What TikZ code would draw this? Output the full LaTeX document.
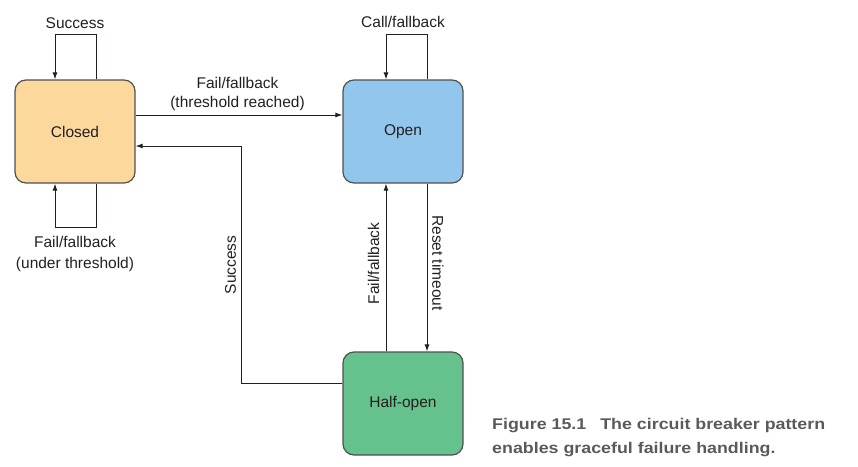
\documentclass[tikz,border=0pt]{standalone}
\usepackage{fontspec}
\setmainfont{Liberation Sans}
\newfontfamily\capfont[FakeStretch=1.15]{Liberation Sans}
\usetikzlibrary{arrows.meta,calc}
\definecolor{closedfill}{HTML}{FCD89C}
\definecolor{openfill}{HTML}{93C6EC}
\definecolor{halffill}{HTML}{66C28C}
\definecolor{boxline}{HTML}{505050}
\definecolor{txt}{HTML}{231F20}
\definecolor{capgray}{HTML}{5A5A5C}
\tikzset{
  statebox/.style={draw=boxline, line width=1.2pt, rounded corners=11pt,
    minimum width=120pt, minimum height=103pt, inner sep=0pt,
    font=\fontsize{15.5}{18}\selectfont, text=txt},
  arr/.style={draw=txt, line width=1pt, -{Latex[length=7pt,width=5pt]}},
  lbl/.style={font=\fontsize{15.5}{18}\selectfont, text=txt, inner sep=0pt},
  captext/.style={font=\capfont\bfseries\fontsize{15.5}{18}\selectfont, text=capgray, inner sep=0pt, anchor=base west}
}
\begin{document}
\begin{tikzpicture}[x=1pt,y=-1pt]
\useasboundingbox (0,0) rectangle (858,466);
\node[statebox, fill=closedfill] (closed) at (75,131.5) {Closed};
\node[statebox, fill=openfill] (open) at (403,131.5) {Open};
\node[statebox, fill=halffill] (half) at (403,403.5) {Half-open};

% loops
\draw[arr] ([xshift=21pt]closed.north) -- ++(0,-45) -- ++(-41,0) -- ([xshift=-20pt]closed.north);
\draw[arr] ([xshift=21pt]closed.south) -- ++(0,44) -- ++(-41,0) -- ([xshift=-20pt]closed.south);
\draw[arr] ([xshift=24pt]open.north) -- ++(0,-45) -- ++(-41,0) -- ([xshift=-17pt]open.north);

% transitions
\draw[arr] ([yshift=16.5pt]closed.east) -- ([yshift=16.5pt]open.west);
\coordinate (bend) at (241,146);
\draw[arr] ([yshift=20.5pt]half.west) -| (bend) -- ([yshift=-14.5pt]closed.east);
\draw[arr] ([xshift=-17pt]half.north) -- ([xshift=-17pt]open.south);
\draw[arr] ([xshift=24pt]open.south) -- ([xshift=24pt]half.north);

% labels
\node[lbl, anchor=base] (l1) at (75,28) {Success};
\node[lbl, anchor=base] (l2) at (403,27) {Call/fallback};
\node[lbl, anchor=base] (l3) at (237.5,88) {Fail/fallback};
\node[lbl, anchor=base] (l4) at (237.5,107) {(threshold reached)};
\node[lbl, anchor=base] (l5) at (75,247) {Fail/fallback};
\node[lbl, anchor=base] (l6) at (75,268) {(under threshold)};
\node[lbl, rotate=90] (l7) at (230.5,265) {Success};
\node[lbl, rotate=90] (l8) at (373.5,263.5) {Fail/fallback};
\node[lbl, rotate=-90] (l9) at (438,263) {Reset timeout};

% caption
\node[captext] (c1) at (492,429) {Figure 15.1\hspace{14pt}The circuit breaker pattern};
\node[captext] (c2) at (492,453) {enables graceful failure handling.};
\end{tikzpicture}
\end{document}
